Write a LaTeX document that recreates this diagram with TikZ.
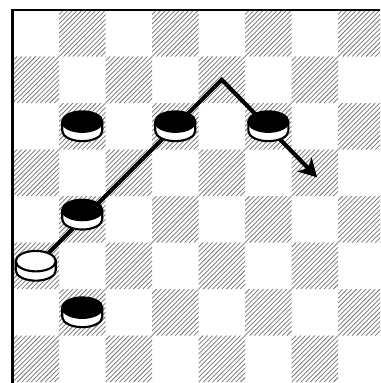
\documentclass[tikz,border=0pt]{standalone}
\usetikzlibrary{arrows.meta}

\tikzset{
  hatch/.style={black!55, line width=0.45pt},
  boardline/.style={line width=1.4pt},
  move/.style={line width=2.5pt, line join=miter, -{Stealth[length=11pt,width=12pt,inset=3pt]}},
  rim/.style={line width=1.3pt},
}

% 棋子：#1 位置，#2 顶面颜色
\newcommand{\qizi}[2]{%
  \begin{scope}[shift={(#1)}]
    \filldraw[rim, fill=white] (-0.43,0.1) -- (-0.43,-0.1)
      arc[start angle=180, end angle=360, x radius=0.43, y radius=0.22] -- (0.43,0.1) -- cycle;
    \filldraw[rim, fill=#2] (0,0.1) ellipse[x radius=0.43, y radius=0.22];
  \end{scope}}

\begin{document}
\begin{tikzpicture}
	\useasboundingbox (-0.269,-8.02) rectangle (7.903,0.215);
	\clip (-0.269,-8.02) rectangle (7.903,0.215);
	
	% 1. 棋盘斜线格
	\foreach \r in {0,...,7}
	  \foreach \c in {0,...,7} {
	    \pgfmathparse{int(mod(\r+\c,2))}
	    \ifnum\pgfmathresult=1
	      \begin{scope}
	        \clip (\c,-\r) rectangle ++(1,-1);
	        \foreach \k in {-10,...,10}
	          \draw[hatch] ({\c+\k/10},{-\r-1}) -- ++(1,1);
	      \end{scope}
	    \fi
	  }
	
	% 2. 棋盘边线
	\draw[boardline] (0,-8.1) -- (0,0) -- (8.1,0);
	
	% 3. 棋子位置
	\coordinate (W) at (0.5,-5.5);    % 白子
	\coordinate (B1) at (1.5,-2.5);
	\coordinate (B2) at (3.5,-2.5);
	\coordinate (B3) at (5.5,-2.5);
	\coordinate (B4) at (1.5,-4.4);
	\coordinate (B5) at (1.5,-6.5);
	\coordinate (T) at (4.5,-1.5);    % 折返点
	\coordinate (E) at (6.55,-3.6);   % 终点
	
	% 4. 走法路线
	\draw[move] (W) -- (T) -- (E);
	
	% 5. 棋子
	\qizi{B1}{black}
	\qizi{B2}{black}
	\qizi{B3}{black}
	\qizi{B4}{black}
	\qizi{B5}{black}
	\qizi{W}{white}
	
\end{tikzpicture}
\end{document}
